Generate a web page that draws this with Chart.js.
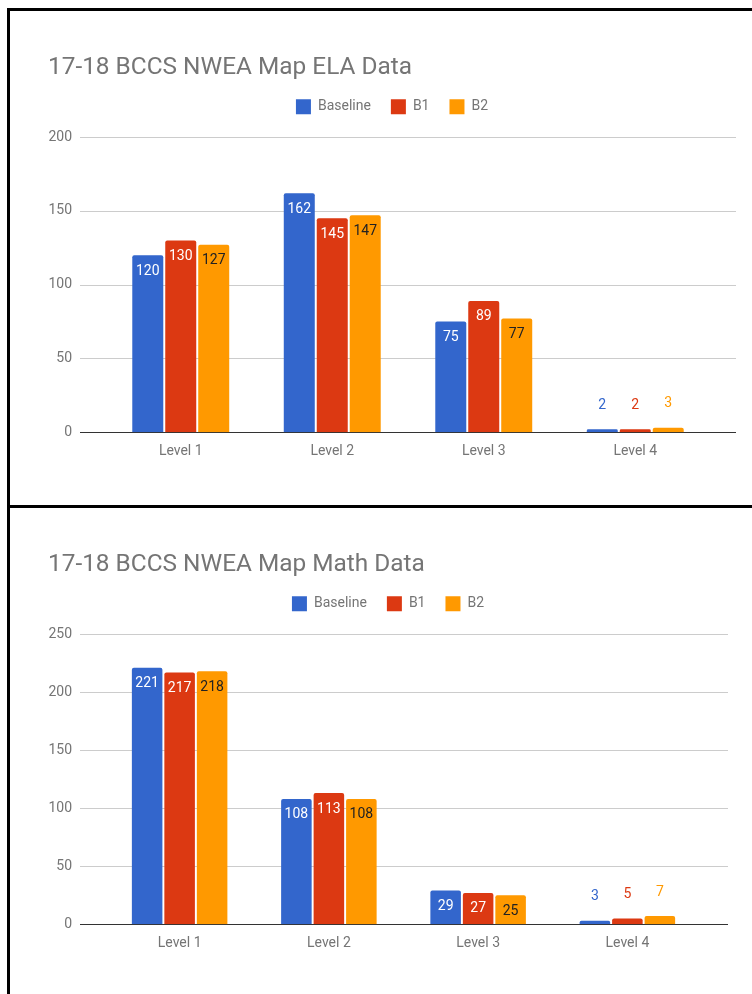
<!DOCTYPE html>
<html>
<head>
<meta charset="utf-8">
<script src="https://cdn.jsdelivr.net/npm/chart.js@4/dist/chart.umd.min.js"></script>
<style>
  body { margin: 0; background: #fff; overflow: hidden; }
  .page { position: relative; width: 752px; height: 994px; overflow: hidden; }
  .box { position: absolute; }
  .line { position: absolute; background: #000; z-index: 2; }
</style>
</head>
<body>
<div class="page">
  <div class="box" style="left:0; top:10px; width:752px; height:496px;"><canvas id="ela"></canvas></div>
  <div class="box" style="left:0; top:509px; width:752px; height:485px;"><canvas id="math"></canvas></div>
  <div class="line" style="left:7px; top:8px; width:760px; height:3px;"></div>
  <div class="line" style="left:7px; top:8px; width:3px; height:1000px;"></div>
  <div class="line" style="left:7px; top:505px; width:760px; height:3px;"></div>
</div>
<script>
const levels = ['Level 1', 'Level 2', 'Level 3', 'Level 4'];
const seriesNames = ['Baseline', 'B1', 'B2'];
const seriesColors = ['#3366cc', '#dc3912', '#ff9900'];

const elaBaseline = [120, 162, 75, 2];
const elaB1 = [130, 145, 89, 2];
const elaB2 = [127, 147, 77, 3];

const mathBaseline = [221, 108, 29, 3];
const mathB1 = [217, 113, 27, 5];
const mathB2 = [218, 108, 25, 7];

const elaMax = 200;
const mathMax = 250;
const tickStep = 50;

const grey = '#757575';
const font = 'Roboto';

// google style gridlines reach past the bar area on both sides
const wideGrid = {
  id: 'wideGrid',
  beforeDatasetsDraw(chart, args, opts) {
    const ctx = chart.ctx;
    const y = chart.scales.y;
    const a = chart.chartArea;
    ctx.save();
    y.ticks.forEach(t => {
      const py = Math.round(y.getPixelForValue(t.value)) + 0.5;
      ctx.strokeStyle = t.value === 0 ? '#333' : '#ccc';
      ctx.lineWidth = 1;
      ctx.beginPath();
      ctx.moveTo(a.left - opts.left, py);
      ctx.lineTo(a.right + opts.right, py);
      ctx.stroke();
    });
    ctx.restore();
  }
};

// a bit of room between the legend and the plot
const legendGap = {
  id: 'legendGap',
  beforeInit(chart, args, opts) {
    const fit = chart.legend.fit;
    chart.legend.fit = function () {
      fit.call(this);
      this.height += opts.gap;
    };
  }
};

const barLabels = {
  id: 'barLabels',
  afterDatasetsDraw(chart) {
    const ctx = chart.ctx;
    ctx.save();
    ctx.font = '14px ' + font;
    ctx.textAlign = 'center';
    ctx.textBaseline = 'middle';
    chart.data.datasets.forEach((ds, di) => {
      const meta = chart.getDatasetMeta(di);
      meta.data.forEach((bar, i) => {
        const h = bar.base - bar.y;
        if (h > 20) {
          ctx.fillStyle = di === 2 ? '#222' : '#fff';
          ctx.fillText(ds.data[i], bar.x, bar.y + 16);
        } else {
          ctx.fillStyle = seriesColors[di];
          ctx.fillText(ds.data[i], bar.x, bar.y - 24);
        }
      });
    });
    ctx.restore();
  }
};

function makeChart(id, title, data, max, opt) {
  const datasets = data.map((vals, i) => ({
    label: seriesNames[i],
    data: vals,
    backgroundColor: seriesColors[i],
    borderRadius: { topLeft: 2, topRight: 2 },
    borderSkipped: 'start',
    categoryPercentage: 0.653,
    barPercentage: 0.94
  }));

  return new Chart(document.getElementById(id), {
    type: 'bar',
    data: { labels: levels, datasets: datasets },
    plugins: [legendGap, wideGrid, barLabels],
    options: {
      responsive: true,
      maintainAspectRatio: false,
      animation: false,
      layout: { padding: { left: 48, right: opt.padRight, top: 0, bottom: opt.padBottom } },
      plugins: {
        legendGap: { gap: 13 },
        wideGrid: { left: 25, right: opt.gridRight },
        title: {
          display: true,
          text: title,
          align: 'start',
          color: grey,
          font: { family: font, size: 24.4, weight: 'normal', lineHeight: 0.95 },
          padding: { top: opt.titleTop, bottom: 0 }
        },
        legend: {
          labels: {
            boxWidth: 15,
            boxHeight: 15,
            padding: 20,
            color: grey,
            font: { family: font, size: 14 }
          }
        },
        tooltip: { enabled: false }
      },
      scales: {
        x: {
          grid: { display: false, drawTicks: false },
          border: { display: false },
          ticks: { color: grey, padding: 11, font: { family: font, size: 14 } }
        },
        y: {
          min: 0,
          max: max,
          grid: { display: false, drawTicks: false },
          border: { display: false },
          ticks: { stepSize: tickStep, color: grey, padding: 33, font: { family: font, size: 14 } },
          afterFit: s => { s.width = 57; }
        },
        yRight: {
          position: 'right',
          min: 0,
          max: max,
          grid: { display: false, drawTicks: false },
          border: { display: false },
          ticks: { display: false },
          afterFit: s => { s.width = opt.gridRight; }
        }
      }
    }
  });
}

makeChart('ela', '17-18 BCCS NWEA Map ELA Data', [elaBaseline, elaB1, elaB2], elaMax,
  { padRight: 16, padBottom: 35, titleTop: 46, gridRight: 25 });
makeChart('math', '17-18 BCCS NWEA Map Math Data', [mathBaseline, mathB1, mathB2], mathMax,
  { padRight: 24, padBottom: 31, titleTop: 44, gridRight: 26 });
</script>
</body>
</html>
